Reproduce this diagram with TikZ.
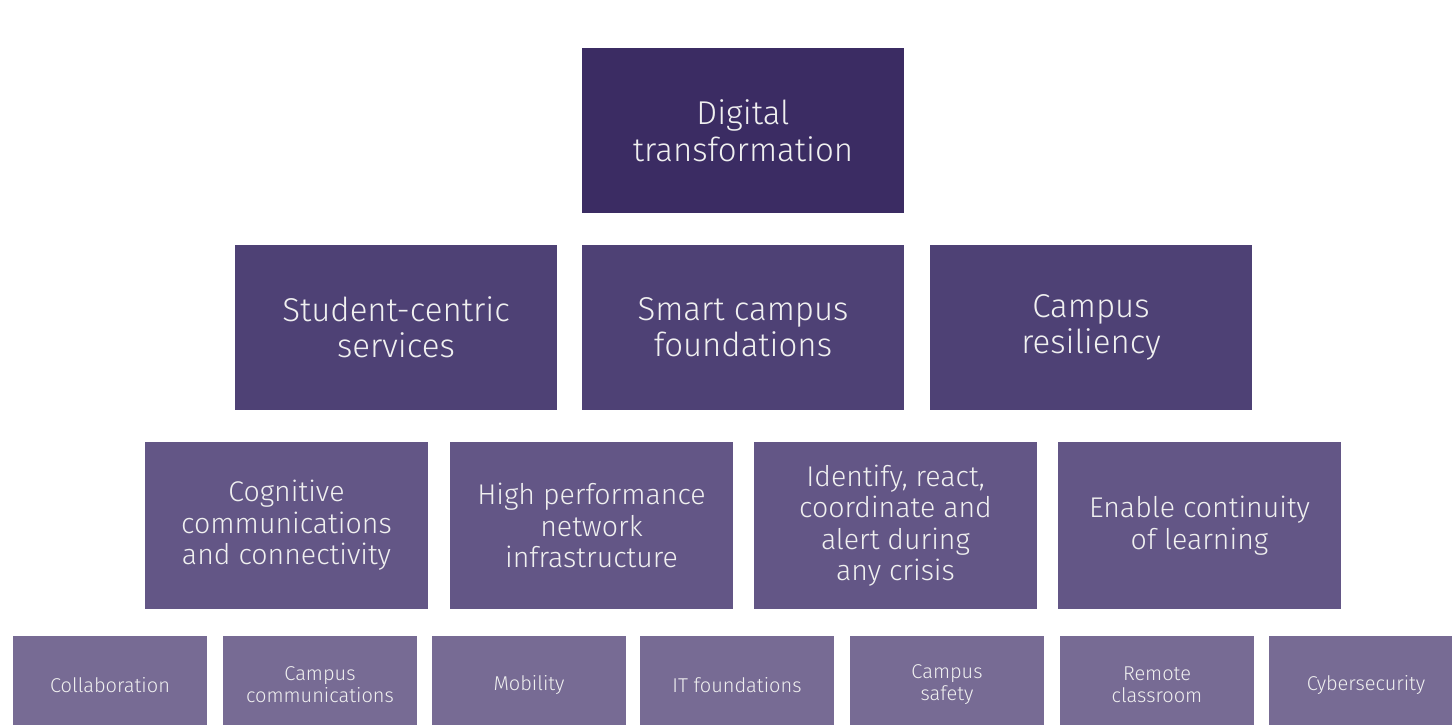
\documentclass[tikz,border=0pt]{standalone}
\usepackage{fontspec}
\setmainfont{Fira Sans Light}
\definecolor{tierA}{HTML}{3B2C63}
\definecolor{tierB}{HTML}{4E4175}
\definecolor{tierC}{HTML}{635686}
\definecolor{tierD}{HTML}{776B94}
\tikzset{
  box/.style={inner sep=0pt, align=center, text=white!94!black},
  tierone/.style={box, fill=tierA, minimum width=322pt, minimum height=165pt, font=\fontsize{33}{37}\selectfont},
  tiertwo/.style={box, fill=tierB, minimum width=322pt, minimum height=165pt, font=\fontsize{33}{36}\selectfont},
  tierthree/.style={box, fill=tierC, minimum width=283pt, minimum height=167pt, font=\fontsize{28.5}{31.5}\selectfont},
  tierfour/.style={box, fill=tierD, minimum width=194pt, minimum height=98pt, font=\fontsize{20}{22}\selectfont}
}
\begin{document}
\begin{tikzpicture}[x=1pt,y=-1pt]
\useasboundingbox (0,0) rectangle (1452,724);
\clip (0,0) rectangle (1452,724);
% top
\node[tierone] (digital) at (743,130.5) {Digital\\transformation};
% second row
\node[tiertwo] (student) at (396,327.5) {Student-centric\\services};
\node[tiertwo] (smart) at (743,327.5) {Smart campus\\foundations};
\node[tiertwo] (resil) at (1091,327.5) {Campus\\resiliency};
% third row
\node[tierthree] (cognitive) at (286.5,525.5) {Cognitive\\communications\\and connectivity};
\node[tierthree] (network) at (591.5,525.5) {High performance\\network\\infrastructure};
\node[tierthree] (crisis) at (895.5,525.5) {Identify, react,\\coordinate and\\alert during\\any crisis};
\node[tierthree] (learning) at (1199.5,525.5) {Enable continuity\\of learning};
% bottom row
\node[tierfour] (collab) at (110,685) {Collaboration};
\node[tierfour] (campcomm) at (320,685) {Campus\\communications};
\node[tierfour] (mobility) at (529,685) {Mobility};
\node[tierfour] (itfound) at (737,685) {IT foundations};
\node[tierfour] (safety) at (947,685) {Campus\\safety};
\node[tierfour] (remote) at (1157,685) {Remote\\classroom};
\node[tierfour] (cyber) at (1366,685) {Cybersecurity};
\end{tikzpicture}
\end{document}
